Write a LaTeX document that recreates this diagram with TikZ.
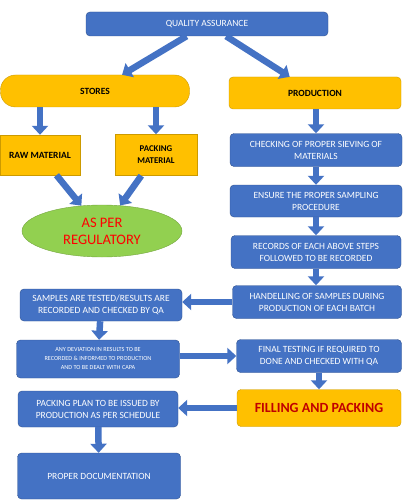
\documentclass[tikz,border=0pt]{standalone}
\usepackage{fontspec}
\setmainfont{Carlito}
\usepackage{tikz}
\usetikzlibrary{arrows.meta, shapes.geometric, positioning, calc}
\definecolor{qablue}{HTML}{4472C4}
\definecolor{qaedge}{HTML}{2F528F}
\definecolor{qagold}{HTML}{FFC000}
\definecolor{qagreen}{HTML}{92D050}

\begin{document}
\begin{tikzpicture}[x=1pt, y=-1pt]
\tikzstyle{bluestep}=[draw=qaedge, fill=qablue, rounded corners=4pt, text=white, align=center, inner sep=1pt, font=\fontsize{9.5}{12}\selectfont]
\tikzstyle{goldstep}=[draw=qagold!80!black, fill=qagold, rounded corners=4pt, text=black, align=center, inner sep=1pt, font=\bfseries\fontsize{9.5}{11}\selectfont]
\tikzstyle{blockarrow}=[-{Triangle[width=16pt,length=9pt]}, line width=6.5pt, qablue]

\useasboundingbox (0,0) rectangle (416,500);

\node (qa) at (207,24) [bluestep, minimum width=242pt, minimum height=24pt, font=\fontsize{9.5}{11}\selectfont] {QUALITY ASSURANCE};

\node (stores) at (95,91) [goldstep, minimum width=189pt, minimum height=32pt, rounded corners=15pt] {STORES};
\node (prod) at (315,93) [goldstep, minimum width=172pt, minimum height=32pt] {PRODUCTION};

\node (raw) at (40,155) [goldstep, rounded corners=0pt, minimum width=80pt, minimum height=40pt] {RAW MATERIAL};
\node (pack) at (156,155) [goldstep, rounded corners=0pt, minimum width=82pt, minimum height=41pt, font=\bfseries\fontsize{8.8}{12}\selectfont] {PACKING\\MATERIAL};
\node (regul) at (102,231) [ellipse, fill=qagreen, draw=qagreen!80!black, minimum width=160pt, minimum height=52pt, inner sep=0pt, align=center, text=red, font=\fontsize{14.5}{17}\selectfont] {AS PER\\REGULATORY};

\node (check) at (316,150) [bluestep, minimum width=172pt, minimum height=33pt] {CHECKING OF PROPER SIEVING OF\\MATERIALS};
\node (ensure) at (316,201) [bluestep, minimum width=172pt, minimum height=32pt] {ENSURE THE PROPER SAMPLING\\PROCEDURE};
\node (records) at (316,252) [bluestep, minimum width=170pt, minimum height=33pt] {RECORDS OF EACH ABOVE STEPS\\FOLLOWED TO BE RECORDED};
\node (handle) at (317,302) [bluestep, minimum width=169pt, minimum height=33pt] {HANDELLING OF SAMPLES DURING\\PRODUCTION OF EACH BATCH};

\node (samples) at (101,305) [bluestep, minimum width=162pt, minimum height=32pt] {SAMPLES ARE TESTED/RESULTS ARE\\RECORDED AND CHECKED BY QA};
\node (deviation) at (98,359) [bluestep, minimum width=163pt, minimum height=38pt, font=\fontsize{6.2}{9}\selectfont] {ANY DEVIATION IN RESULTS TO BE\\RECORDED \& INFORMED TO PRODUCTION\\AND TO BE DEALT WITH CAPA};
\node (final) at (319,356) [bluestep, minimum width=165pt, minimum height=33pt] {FINAL TESTING IF REQUIRED TO\\DONE AND CHECKED WITH QA};
\node (filling) at (319,408) [goldstep, minimum width=164pt, minimum height=37pt, text={rgb,255:red,192;green,0;blue,0}, font=\bfseries\fontsize{14}{16}\selectfont] {FILLING AND PACKING};
\node (plan) at (98,409) [bluestep, minimum width=160pt, minimum height=36pt] {PACKING PLAN TO BE ISSUED BY\\PRODUCTION AS PER SCHEDULE};
\node (doc) at (99,476) [bluestep, minimum width=163pt, minimum height=46pt] {PROPER DOCUMENTATION};

\draw [blockarrow] (qa) -- (stores);
\draw [blockarrow] (qa) -- (prod);
\draw [blockarrow] (raw.north |- stores.south) -- (raw.north);
\draw [blockarrow] (pack.north |- stores.south) -- (pack.north);
\draw [blockarrow] (prod.south -| check.north) -- (check.north);
\draw [blockarrow] (raw) -- (regul);
\draw [blockarrow] (pack) -- (regul);

\draw [blockarrow] (check) -- (ensure);
\draw [blockarrow] (ensure) -- (records);
\draw [blockarrow] (records.south) -- (records.south |- handle.north);
\draw [blockarrow] (handle.west) -- (handle.west -| samples.east);
\draw [blockarrow] (samples) -- (deviation);
\draw [blockarrow] (final.west -| deviation.east) -- (final.west);
\draw [blockarrow] (final) -- (filling);
\draw [blockarrow] (filling.west) -- (filling.west -| plan.east);
\draw [blockarrow] (plan) -- (doc);
\end{tikzpicture}
\end{document}
